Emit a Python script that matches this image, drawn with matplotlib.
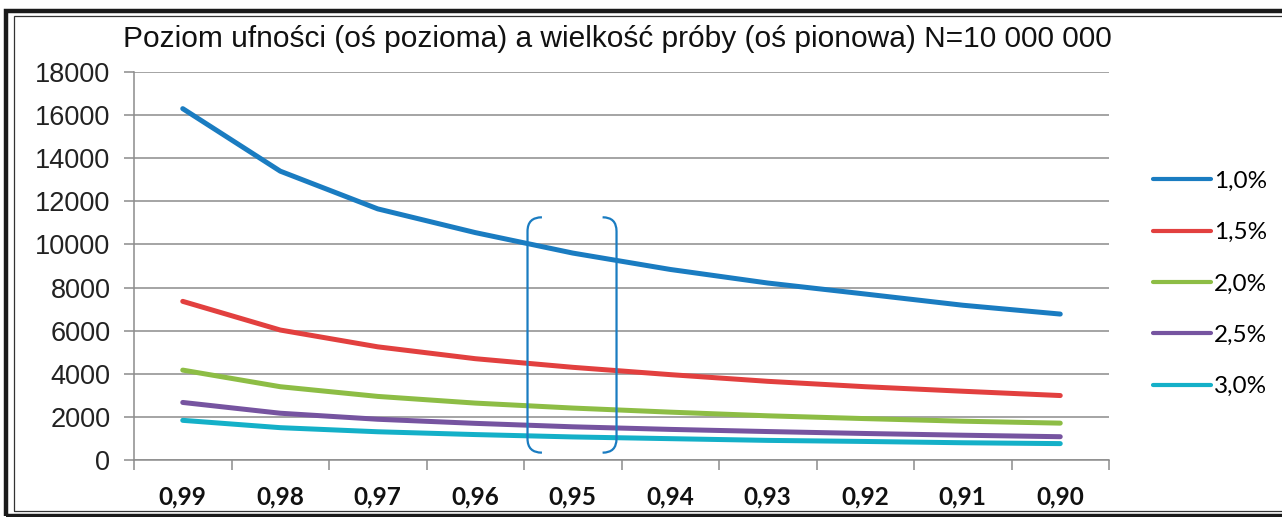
import numpy as np
import matplotlib
matplotlib.use("Agg")
import matplotlib.pyplot as plt
from matplotlib.path import Path
from matplotlib.patches import PathPatch, Rectangle

# dane
poziomy = ["0,99", "0,98", "0,97", "0,96", "0,95", "0,94", "0,93", "0,92", "0,91", "0,90"]
serie = ["1,0%", "1,5%", "2,0%", "2,5%", "3,0%"]
blad_10 = [16300, 13400, 11650, 10550, 9600, 8840, 8210, 7700, 7180, 6770]
blad_15 = [7360, 6030, 5250, 4700, 4300, 3960, 3650, 3400, 3190, 2990]
blad_20 = [4170, 3400, 2950, 2640, 2410, 2220, 2050, 1920, 1800, 1710]
blad_25 = [2670, 2170, 1890, 1700, 1540, 1420, 1320, 1230, 1150, 1080]
blad_30 = [1840, 1500, 1310, 1180, 1070, 990, 910, 860, 800, 760]
kolory = ["#1a7cc1", "#e2403f", "#8dbd45", "#7654a0", "#14b0c8"]

fig = plt.figure(figsize=(12.82, 5.17), dpi=100)
ax = fig.add_axes([134 / 1282, 1 - 460 / 517, (1109 - 134) / 1282, (460 - 72) / 517])

x = np.arange(len(poziomy))
for wartosci, nazwa, kolor in zip([blad_10, blad_15, blad_20, blad_25, blad_30], serie, kolory):
    ax.plot(x, wartosci, color=kolor, lw=3.6, label=nazwa,
            solid_capstyle="round", solid_joinstyle="round")

ax.set_xlim(-0.5, len(poziomy) - 0.5)
ax.set_ylim(0, 18000)
ax.set_yticks(np.arange(0, 18001, 2000))
ax.yaxis.grid(True, color="#8c8c8c", lw=1.1)
ax.set_axisbelow(True)
ax.tick_params(axis="y", length=7, width=1.1, color="#8c8c8c", pad=10,
               labelsize=19.5, labelcolor="#222222")
for lab in ax.get_yticklabels():
    lab.set_family("Liberation Sans")

ax.set_xticks(x)
ax.set_xticklabels(poziomy, fontweight="bold", family="Lato", fontsize=17.5, color="#111111")
ax.set_xticks(np.arange(-0.5, len(poziomy)), minor=True)
ax.tick_params(axis="x", which="major", length=0, pad=18)
ax.tick_params(axis="x", which="minor", length=7, width=1.1, color="#8c8c8c")
for s in ["top", "right"]:
    ax.spines[s].set_visible(False)
for s in ["left", "bottom"]:
    ax.spines[s].set_color("#8c8c8c")
    ax.spines[s].set_linewidth(1.1)

# nawias wokół 0,95
srodek = 4
y_gora, y_dol, r = 11260, 340, 650
for x_pion, x_kon in [(srodek - 0.464, srodek - 0.316), (srodek + 0.449, srodek + 0.306)]:
    sciezka = Path([(x_kon, y_gora), (x_pion, y_gora), (x_pion, y_gora - r),
                    (x_pion, y_dol + r), (x_pion, y_dol), (x_kon, y_dol)],
                   [Path.MOVETO, Path.CURVE3, Path.CURVE3,
                    Path.LINETO, Path.CURVE3, Path.CURVE3])
    ax.add_patch(PathPatch(sciezka, fill=False, edgecolor="#1a7cc1", lw=1.6, zorder=5))

fig.text(617 / 1282, 1 - 47 / 517,
         "Poziom ufności (oś pozioma) a wielkość próby (oś pionowa) N=10 000 000",
         ha="center", va="baseline", fontsize=21.5, family="Liberation Sans", color="#111111")

leg = fig.legend(loc="center left", bbox_to_anchor=(1131 / 1282, 1 - 284 / 517),
                 frameon=False, handlelength=2.4, handletextpad=0.12,
                 labelspacing=1.25, prop={"family": "Lato", "size": 17.5})
for linia in leg.get_lines():
    linia.set_linewidth(3)

# ramka
fig.patches.append(Rectangle((6 / 1282, 1.5 / 517), 1.1, 1 - 11 / 517 - 1.5 / 517,
                             transform=fig.transFigure, fill=False, ec="#1a1a1a", lw=3.2))
fig.patches.append(Rectangle((13.5 / 1282, 6 / 517), 1.1, 1 - 16 / 517 - 6 / 517,
                             transform=fig.transFigure, fill=False, ec="#333333", lw=0.9))

fig.savefig("out.png", dpi=100)
